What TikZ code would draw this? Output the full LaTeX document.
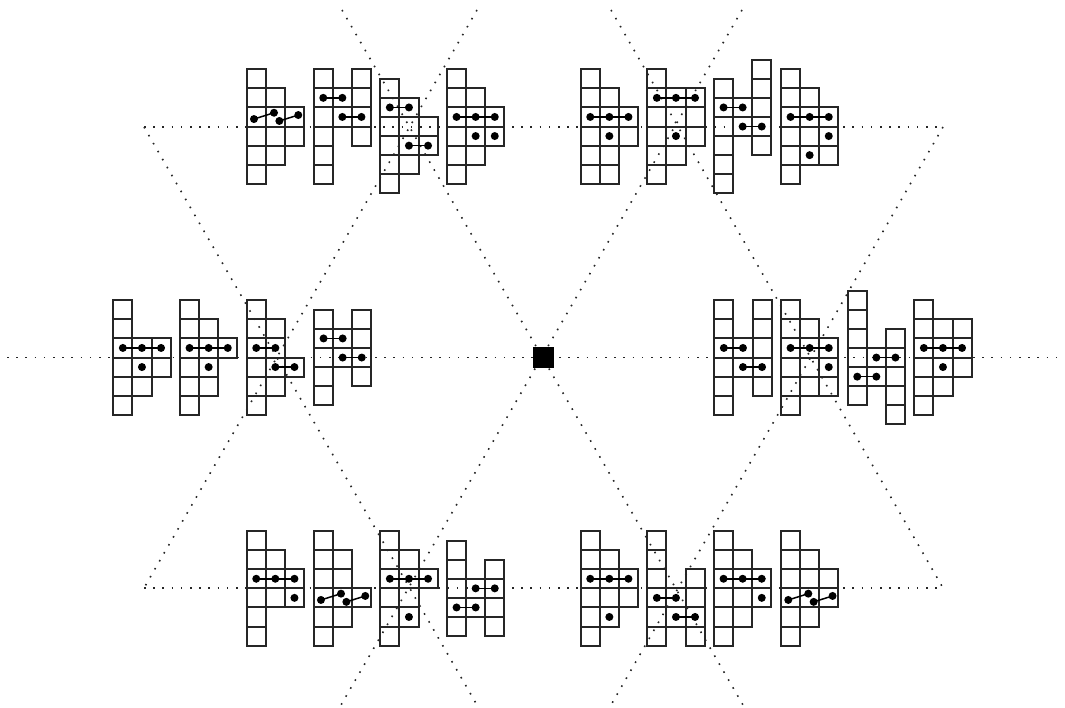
\documentclass[tikz,border=0pt]{standalone}
\tikzset{
  cellbox/.style={draw=black!85,line width=2pt,line join=miter},
  guide/.style={draw=black!85,line width=1.6pt,dash pattern=on 1.6pt off 7.6pt},
  link/.style={draw=black,line width=1.5pt},
  ball/.style={fill=black}
}
% \figgrid{x}{y}{col/top/bottom list}
\newcommand{\figgrid}[3]{%
  \begin{scope}[shift={(#1,#2)},x=19.1pt,y=-19.1pt]
    \foreach \c/\t/\b in {#3}{
      \pgfmathsetmacro{\cc}{\c+1}
      \pgfmathtruncatemacro{\lastr}{\b-1}
      \foreach \r in {\t,...,\lastr}{
        \pgfmathsetmacro{\rr}{\r+1}
        \draw[cellbox] (\c,\r) rectangle (\cc,\rr);
      }
    }
  \end{scope}}
% \dotrun{x}{y}{row}{first col}{last col}
\newcommand{\dotrun}[5]{%
  \begin{scope}[shift={(#1,#2)},x=19.1pt,y=-19.1pt]
    \draw[link] (#4+.5,#3+.5) -- (#5+.5,#3+.5);
    \foreach \c in {#4,...,#5}{\fill[ball] (\c+.5,#3+.5) circle (4pt);}
  \end{scope}}
% bent pair of links
\newcommand{\bent}[3]{%
  \begin{scope}[shift={(#1,#2)},x=19.1pt,y=-19.1pt]
    \coordinate (p1) at (.38,#3-.39);
    \coordinate (p2) at (1.43,#3-.72);
    \coordinate (p3) at (1.71,#3-.29);
    \coordinate (p4) at (2.7,#3-.6);
    \draw[link] (p1) -- (p2);
    \draw[link] (p3) -- (p4);
    \foreach \p in {p1,p2,p3,p4}{\fill[ball] (\p) circle (4pt);}
  \end{scope}}
\begin{document}
\begin{tikzpicture}[x=1pt,y=-1pt]
\useasboundingbox (0,0) rectangle (1065,707);
% guide lines
\coordinate (a1) at (342,10); \coordinate (a2) at (743,705);
\coordinate (b1) at (742,10); \coordinate (b2) at (341,705);
\coordinate (c1) at (7,357.5); \coordinate (c2) at (1065,357.5);
\coordinate (tl) at (144,127); \coordinate (tr) at (943,127);
\coordinate (bl) at (144,588); \coordinate (br) at (943,588);
\coordinate (d1) at (477,10); \coordinate (d2) at (611,10);
\coordinate (e1) at (477,705); \coordinate (e2) at (611,705);
\draw[guide] (a1) -- (a2);
\draw[guide] (b1) -- (b2);
\draw[guide] (c1) -- (c2);
\draw[guide] (tl) -- (tr);
\draw[guide] (bl) -- (br);
\draw[guide] (d1) -- (bl);
\draw[guide] (d2) -- (br);
\draw[guide] (tl) -- (e1);
\draw[guide] (tr) -- (e2);
\fill[black] (532.5,346.5) rectangle (553.5,367.5);
% top left
\figgrid{246.7}{126.5}{0/-3/3,1/-2/2,2/-1/1}
\bent{246.7}{126.5}{0}
\figgrid{313.7}{126.5}{0/-3/3,1/-2/0,2/-3/1}
\dotrun{313.7}{126.5}{-2}{0}{1}\dotrun{313.7}{126.5}{-1}{1}{2}
\figgrid{380.3}{117}{0/-2/4,1/-1/3,2/0/2}
\dotrun{380.3}{117}{-1}{0}{1}\dotrun{380.3}{117}{1}{1}{2}
\figgrid{447}{126.5}{0/-3/3,1/-2/2,2/-1/1}
\dotrun{447}{126.5}{-1}{0}{2}\dotrun{447}{126.5}{0}{1}{1}\dotrun{447}{126.5}{0}{2}{2}
% top right
\figgrid{580.7}{126.5}{0/-3/3,1/-2/3,2/-1/1}
\dotrun{580.7}{126.5}{-1}{0}{2}\dotrun{580.7}{126.5}{0}{1}{1}
\figgrid{647.3}{126.5}{0/-3/3,1/-2/2,2/-2/1}
\dotrun{647.3}{126.5}{-2}{0}{2}\dotrun{647.3}{126.5}{0}{1}{1}
\figgrid{714}{117}{0/-2/4,1/-1/1,2/-3/2}
\dotrun{714}{117}{-1}{0}{1}\dotrun{714}{117}{0}{1}{2}
\figgrid{781}{126.5}{0/-3/3,1/-2/2,2/-1/2}
\dotrun{781}{126.5}{-1}{0}{2}\dotrun{781}{126.5}{0}{2}{2}\dotrun{781}{126.5}{1}{1}{1}
% middle left
\figgrid{113.3}{357.5}{0/-3/3,1/-1/2,2/-1/1}
\dotrun{113.3}{357.5}{-1}{0}{2}\dotrun{113.3}{357.5}{0}{1}{1}
\figgrid{180}{357.5}{0/-3/3,1/-2/2,2/-1/0}
\dotrun{180}{357.5}{-1}{0}{2}\dotrun{180}{357.5}{0}{1}{1}
\figgrid{246.7}{357.5}{0/-3/3,1/-2/2,2/0/1}
\dotrun{246.7}{357.5}{-1}{0}{1}\dotrun{246.7}{357.5}{0}{1}{2}
\figgrid{314}{348}{0/-2/3,1/-1/1,2/-2/2}
\dotrun{314}{348}{-1}{0}{1}\dotrun{314}{348}{0}{1}{2}
% middle right
\figgrid{714.3}{357.5}{0/-3/3,1/-1/1,2/-3/2}
\dotrun{714.3}{357.5}{-1}{0}{1}\dotrun{714.3}{357.5}{0}{1}{2}
\figgrid{781}{357.5}{0/-3/3,1/-2/2,2/-1/2}
\dotrun{781}{357.5}{-1}{0}{2}\dotrun{781}{357.5}{0}{2}{2}
\figgrid{847.7}{348}{0/-3/3,1/0/2,2/-1/4}
\dotrun{847.7}{348}{0}{1}{2}\dotrun{847.7}{348}{1}{0}{1}
\figgrid{914.3}{357.5}{0/-3/3,1/-2/2,2/-2/1}
\dotrun{914.3}{357.5}{-1}{0}{2}\dotrun{914.3}{357.5}{0}{1}{1}
% bottom left
\figgrid{246.7}{588.3}{0/-3/3,1/-2/1,2/-1/1}
\dotrun{246.7}{588.3}{-1}{0}{2}\dotrun{246.7}{588.3}{0}{2}{2}
\figgrid{313.7}{588.3}{0/-3/3,1/-2/2,2/0/1}
\bent{313.7}{588.3}{1}
\figgrid{380.3}{588.3}{0/-3/3,1/-2/2,2/-1/0}
\dotrun{380.3}{588.3}{-1}{0}{2}\dotrun{380.3}{588.3}{1}{1}{1}
\figgrid{447}{578.8}{0/-2/3,1/0/2,2/-1/3}
\dotrun{447}{578.8}{0}{1}{2}\dotrun{447}{578.8}{1}{0}{1}
% bottom right
\figgrid{580.7}{588.3}{0/-3/3,1/-2/2,2/-1/1}
\dotrun{580.7}{588.3}{-1}{0}{2}\dotrun{580.7}{588.3}{1}{1}{1}
\figgrid{647.3}{588.3}{0/-3/3,1/0/2,2/-1/3}
\dotrun{647.3}{588.3}{0}{0}{1}\dotrun{647.3}{588.3}{1}{1}{2}
\figgrid{714}{588.3}{0/-3/3,1/-2/2,2/-1/1}
\dotrun{714}{588.3}{-1}{0}{2}\dotrun{714}{588.3}{0}{2}{2}
\figgrid{781}{588.3}{0/-3/3,1/-2/2,2/-1/1}
\bent{781}{588.3}{1}
\end{tikzpicture}
\end{document}
